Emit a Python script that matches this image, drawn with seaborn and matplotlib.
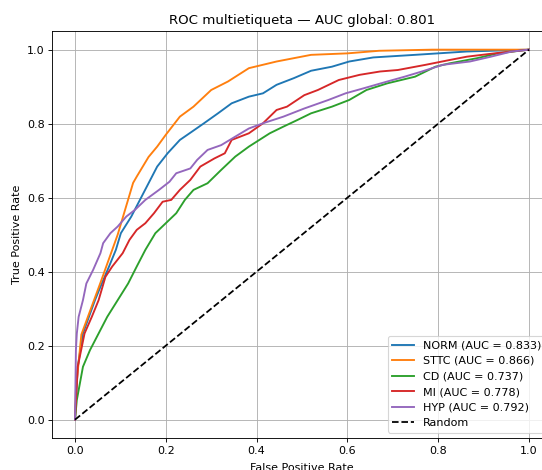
""" ROC multilabel chart """
import matplotlib

matplotlib.use("Agg")
import matplotlib.pyplot as plt
import pandas as pd
import seaborn as sns


# Values (fpr, tpr per class)
classes = ["NORM", "STTC", "CD", "MI", "HYP"]
auc_values = [0.833, 0.866, 0.737, 0.778, 0.792]
auc_global = 0.801
colors = ["#1f77b4", "#ff7f0e", "#2ca02c", "#d62728", "#9467bd"]

norm_fpr = [0.0, 0.006, 0.0175, 0.044, 0.059, 0.075, 0.09, 0.101, 0.124, 0.143,
            0.162, 0.181, 0.204, 0.231, 0.257, 0.284, 0.315, 0.345, 0.383,
            0.414, 0.444, 0.482, 0.52, 0.566, 0.604, 0.657, 0.749, 0.863, 1.0]
norm_tpr = [0.0, 0.143, 0.233, 0.323, 0.368, 0.414, 0.459, 0.504, 0.549, 0.594,
            0.639, 0.684, 0.72, 0.756, 0.778, 0.801, 0.828, 0.855, 0.873,
            0.882, 0.905, 0.923, 0.943, 0.954, 0.968, 0.979, 0.986, 0.995, 1.0]

sttc_fpr = [0.0, 0.002, 0.014, 0.056, 0.094, 0.128, 0.136, 0.162, 0.181, 0.2,
            0.231, 0.261, 0.3, 0.337, 0.383, 0.444, 0.52, 0.6, 0.67, 0.787, 1.0]
sttc_tpr = [0.0, 0.08, 0.23, 0.37, 0.5, 0.64, 0.657, 0.71, 0.738, 0.77,
            0.819, 0.846, 0.891, 0.914, 0.95, 0.968, 0.986, 0.99, 0.997, 1.0, 1.0]

cd_fpr = [0.0, 0.004, 0.0175, 0.033, 0.052, 0.071, 0.094, 0.117, 0.136, 0.155,
          0.177, 0.2, 0.223, 0.242, 0.261, 0.292, 0.322, 0.353, 0.383, 0.406,
          0.429, 0.459, 0.49, 0.52, 0.566, 0.604, 0.642, 0.688, 0.749, 0.794,
          0.825, 0.886, 0.931, 1.0]
cd_tpr = [0.0, 0.053, 0.143, 0.188, 0.233, 0.278, 0.323, 0.368, 0.414, 0.459,
          0.504, 0.531, 0.558, 0.594, 0.621, 0.639, 0.675, 0.711, 0.738, 0.756,
          0.774, 0.792, 0.81, 0.828, 0.846, 0.864, 0.891, 0.909, 0.927, 0.954,
          0.963, 0.977, 0.99, 1.0]

mi_fpr = [0.0, 0.006, 0.021, 0.037, 0.052, 0.067, 0.082, 0.105, 0.12, 0.136,
          0.155, 0.174, 0.193, 0.212, 0.231, 0.254, 0.276, 0.307, 0.33, 0.345,
          0.383, 0.414, 0.444, 0.467, 0.505, 0.535, 0.581, 0.627, 0.672, 0.711,
          0.772, 0.825, 0.863, 0.924, 1.0]
mi_tpr = [0.0, 0.143, 0.233, 0.278, 0.323, 0.386, 0.414, 0.45, 0.486, 0.513,
          0.531, 0.558, 0.589, 0.594, 0.621, 0.648, 0.684, 0.706, 0.72, 0.756,
          0.774, 0.801, 0.837, 0.846, 0.877, 0.891, 0.918, 0.932, 0.941, 0.945,
          0.959, 0.972, 0.981, 0.99, 1.0]

hyp_fpr = [0.0, 0.002, 0.004, 0.008, 0.0175, 0.025, 0.04, 0.056, 0.062, 0.078,
           0.094, 0.113, 0.132, 0.155, 0.185, 0.208, 0.223, 0.254, 0.269, 0.292,
           0.322, 0.353, 0.383, 0.414, 0.459, 0.505, 0.558, 0.596, 0.634, 0.688,
           0.726, 0.764, 0.81, 0.87, 0.916, 0.962, 1.0]
hyp_tpr = [0.0, 0.188, 0.233, 0.278, 0.323, 0.368, 0.405, 0.45, 0.477, 0.504,
           0.522, 0.549, 0.567, 0.594, 0.621, 0.643, 0.666, 0.679, 0.702, 0.729,
           0.742, 0.765, 0.787, 0.801, 0.819, 0.841, 0.864, 0.882, 0.895, 0.914,
           0.927, 0.941, 0.959, 0.968, 0.981, 0.995, 1.0]

curves = {
    "NORM": (norm_fpr, norm_tpr),
    "STTC": (sttc_fpr, sttc_tpr),
    "CD": (cd_fpr, cd_tpr),
    "MI": (mi_fpr, mi_tpr),
    "HYP": (hyp_fpr, hyp_tpr),
}


# original was drawn at ~80 dpi and cropped on the right and bottom
fig = plt.figure(figsize=(542 / 80, 470 / 80), dpi=80)
ax = fig.add_axes([0.0965, 0.0677, 0.9214, 0.866])

for name, auc, color in zip(classes, auc_values, colors):
    fpr, tpr = curves[name]
    df = pd.DataFrame({"fpr": fpr, "tpr": tpr})
    sns.lineplot(data=df, x="fpr", y="tpr", ax=ax, color=color,
                 estimator=None, sort=False, linewidth=1.7,
                 label=f"{name} (AUC = {auc:.3f})")

ax.plot([0, 1], [0, 1], "k--", linewidth=1.6, label="Random")

ax.set_xlim(-0.05, 1.05)
ax.set_ylim(-0.05, 1.05)
ax.set_xlabel("False Positive Rate", labelpad=6)
ax.set_ylabel("True Positive Rate")
ax.set_title(f"ROC multietiqueta — AUC global: {auc_global:.3f}")
ax.legend(loc="lower right")
ax.grid(True)

fig.savefig("out.png", dpi=80)
plt.close(fig)
